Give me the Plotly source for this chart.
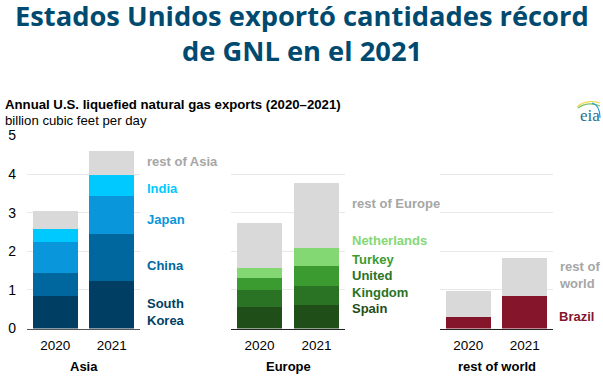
import plotly.graph_objects as go

W, H = 603, 376
TOP, BOTTOM = 135.5, 328.5

years = ["2020", "2021"]

# Asia
south_korea = [0.85, 1.24]
china = [0.60, 1.22]
japan = [0.78, 0.98]
india = [0.34, 0.54]
rest_of_asia = [0.47, 0.61]

# Europe
spain = [0.55, 0.60]
united_kingdom = [0.44, 0.51]
turkey = [0.33, 0.52]
netherlands = [0.24, 0.46]
rest_of_europe = [1.18, 1.69]

# Rest of world
brazil = [0.30, 0.84]
rest_of_world = [0.66, 0.98]

GREY = "#d9d9d9"
panels = [
    ("Asia", 27, 140, [
        ("South Korea", south_korea, "#003f63"),
        ("China", china, "#00679e"),
        ("Japan", japan, "#0a96da"),
        ("India", india, "#00c9ff"),
        ("rest of Asia", rest_of_asia, GREY)]),
    ("Europe", 231, 345, [
        ("Spain", spain, "#1f4e18"),
        ("United Kingdom", united_kingdom, "#2a7324"),
        ("Turkey", turkey, "#3b9b31"),
        ("Netherlands", netherlands, "#84d874"),
        ("rest of Europe", rest_of_europe, GREY)]),
    ("rest of world", 440, 553, [
        ("Brazil", brazil, "#85152a"),
        ("rest of world", rest_of_world, GREY)]),
]

labels = [
    (144.5, 4.33, "rest of Asia", "#a6a6a6", "left"),
    (144.5, 3.64, "India", "#00c9ff", "left"),
    (144.5, 2.83, "Japan", "#0a96da", "left"),
    (144.5, 1.63, "China", "#00679e", "left"),
    (144.5, 0.42, "South<br>Korea", "#003f63", "left"),
    (349.5, 3.23, "rest of Europe", "#a6a6a6", "left"),
    (349.5, 2.28, "Netherlands", "#84d874", "left"),
    (349.5, 1.80, "Turkey", "#3b9b31", "left"),
    (349.5, 1.15, "United<br>Kingdom", "#2a7324", "left"),
    (349.5, 0.51, "Spain", "#1f4e18", "left"),
    (556.5, 1.39, "rest of<br>world", "#a6a6a6", "left"),
    (556.5, 0.30, "Brazil", "#85152a", "left"),
]

fig = go.Figure()
layout = dict(
    width=W, height=H, autosize=False, showlegend=False, barmode="stack",
    bargap=0.2, plot_bgcolor="white", paper_bgcolor="white",
    margin=dict(l=0, r=0, t=0, b=0, pad=0),
    font=dict(family="Liberation Sans, Arial, sans-serif", size=13, color="#000"),
)
annotations = []
for i, (name, x0, x1, series) in enumerate(panels):
    suffix = "" if i == 0 else str(i + 1)
    for sname, vals, color in series:
        fig.add_trace(go.Bar(x=years, y=vals, name=sname, marker=dict(color=color, line=dict(width=0)),
                             xaxis="x" + suffix, yaxis="y" + suffix))
    layout["xaxis" + suffix] = dict(
        domain=[x0 / W, x1 / W], type="category", showgrid=False, ticks="", automargin=False,
        showline=True, linecolor="#555" if i == 0 else "#222", linewidth=1,
        tickfont=dict(size=13.5), ticklabelstandoff=4, anchor="y" + suffix)
    layout["yaxis" + suffix] = dict(
        domain=[1 - BOTTOM / H, 1 - TOP / H], range=[0, 5], dtick=1, automargin=False,
        showgrid=True, gridcolor="#e8e8e8", gridwidth=1, zeroline=False, ticks="",
        showticklabels=(i == 0), tickfont=dict(size=14), ticklabelstandoff=10, anchor="x" + suffix)
    annotations.append(dict(text=f"<b>{name}</b>", x=(x0 + x1) / 2 / W, y=1 - 366 / H, xref="paper", yref="paper",
                            showarrow=False, xanchor="center", yanchor="middle", font=dict(size=13)))

for x, y, text, color, anchor in labels:
    annotations.append(dict(text=f"<b>{text}</b>", x=x / W, y=y, xref="paper", yref="y", showarrow=False,
                            xanchor=anchor, yanchor="middle", align="left", font=dict(size=13, color=color)))

TITLE = "#004a70"
for text, py in [("Estados Unidos exportó cantidades récord", 16), ("de GNL en el 2021", 50)]:
    annotations.append(dict(text=f"<b>{text}</b>", x=0.5, y=1 - py / H, xref="paper", yref="paper", showarrow=False,
                            xanchor="center", yanchor="middle",
                            font=dict(family="Open Sans", size=27.3, color=TITLE)))
annotations.append(dict(text="<b>Annual U.S. liquefied natural gas exports (2020–2021)</b>", x=3 / W, y=1 - 104 / H,
                        xref="paper", yref="paper", showarrow=False, xanchor="left", yanchor="middle",
                        font=dict(size=13.2)))
annotations.append(dict(text="billion cubic feet per day", x=3 / W, y=1 - 120 / H, xref="paper", yref="paper",
                        showarrow=False, xanchor="left", yanchor="middle", font=dict(size=13.2)))
annotations.append(dict(text="eia", x=590 / W, y=1 - 115 / H, xref="paper", yref="paper", showarrow=False,
                        xanchor="center", yanchor="middle",
                        font=dict(family="Liberation Serif", size=17, color="#2a6f8f")))

layout["annotations"] = annotations
layout["shapes"] = [
    dict(type="path", path=f"M {577/W} {1-107/H} Q {586/W} {1-99/H} {600/W} {1-103/H}", xref="paper", yref="paper",
         line=dict(color="#f2d94e", width=1.2)),
    dict(type="path", path=f"M {578/W} {1-108/H} Q {588/W} {1-101/H} {600/W} {1-106/H}", xref="paper", yref="paper",
         line=dict(color="#7cc36a", width=1.2)),
    dict(type="path", path=f"M {592/W} {1-103/H} Q {600/W} {1-105/H} {600/W} {1-118/H}", xref="paper", yref="paper",
         line=dict(color="#1f9ad6", width=1.2)),
]
fig.update_layout(**layout)
fig.write_html("out.html", post_script="document.body.style.margin='0';", config={"displayModeBar": False})
